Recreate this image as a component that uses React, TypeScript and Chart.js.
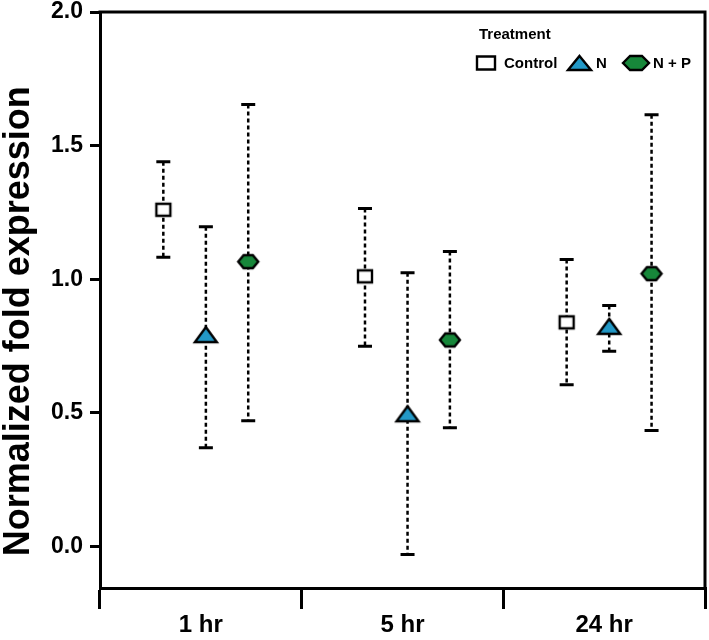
import React, { useEffect, useRef } from 'react';
import { Chart, registerables } from 'chart.js';

Chart.register(...registerables);

// ---- data ----
const categories = ['1 hr', '5 hr', '24 hr'];
const seriesNames = ['Control', 'N', 'N + P'];
const controlMean = [1.26, 1.011, 0.839];
const controlLow = [1.082, 0.749, 0.605];
const controlHigh = [1.44, 1.265, 1.074];
const nMean = [0.793, 0.497, 0.824];
const nLow = [0.37, -0.03, 0.731];
const nHigh = [1.197, 1.024, 0.902];
const npMean = [1.066, 0.773, 1.021];
const npLow = [0.471, 0.445, 0.434];
const npHigh = [1.654, 1.104, 1.616];
const yTicks = [0, 0.5, 1.0, 1.5, 2.0];
const legendTitle = 'Treatment';
const yTitle = 'Normalized fold expression';

// ---- styles ----
const FONT = "'Liberation Sans', Arial, Helvetica, sans-serif";
const means = [controlMean, nMean, npMean];
const lows = [controlLow, nLow, npLow];
const highs = [controlHigh, nHigh, npHigh];
const offsets = [-0.186, 0.025, 0.235];
const shapes = ['square', 'triangle', 'hexagon'];
const fills = ['#ffffff', '#2399c7', '#17873a'];
const plotSizes = [[14, 12], [22, 15], [20, 13]];
const legendSizes = [[18, 13], [23, 14], [26, 14]];

function tracePath(ctx: CanvasRenderingContext2D, shape: string, x0: number, y0: number, w: number, h: number) {
  ctx.beginPath();
  if (shape === 'square') {
    ctx.rect(x0, y0, w, h);
  } else if (shape === 'triangle') {
    ctx.moveTo(x0 + w / 2, y0);
    ctx.lineTo(x0 + w, y0 + h);
    ctx.lineTo(x0, y0 + h);
    ctx.closePath();
  } else {
    ctx.moveTo(x0, y0 + h / 2);
    ctx.lineTo(x0 + w * 0.27, y0);
    ctx.lineTo(x0 + w * 0.73, y0);
    ctx.lineTo(x0 + w, y0 + h / 2);
    ctx.lineTo(x0 + w * 0.73, y0 + h);
    ctx.lineTo(x0 + w * 0.27, y0 + h);
    ctx.closePath();
  }
}

function drawShape(ctx: CanvasRenderingContext2D, shape: string, cx: number, cy: number, w: number, h: number, fill: string) {
  ctx.save();
  tracePath(ctx, shape, cx - w / 2, cy - h / 2, w, h);
  ctx.fillStyle = fill;
  ctx.fill();
  ctx.lineWidth = 2.4;
  ctx.lineJoin = 'miter';
  ctx.strokeStyle = '#000';
  ctx.stroke();
  ctx.restore();
}

function makeMarker(shape: string, w: number, h: number, fill: string) {
  const c = document.createElement('canvas');
  c.width = w + 6;
  c.height = h + 6;
  const ctx = c.getContext('2d')!;
  drawShape(ctx, shape, c.width / 2, c.height / 2, w, h, fill);
  return c;
}

const errorBarPlugin = {
  id: 'errorBars',
  beforeDatasetsDraw(chart: any) {
    const ctx = chart.ctx as CanvasRenderingContext2D;
    const xs = chart.scales.xp;
    const ys = chart.scales.y;
    ctx.save();
    ctx.strokeStyle = '#000';
    means.forEach((arr, s) => {
      arr.forEach((_, i) => {
        const x = xs.getPixelForValue(i + 0.5 + offsets[s]);
        const yl = ys.getPixelForValue(lows[s][i]);
        const yh = ys.getPixelForValue(highs[s][i]);
        ctx.setLineDash([4, 3]);
        ctx.lineWidth = 2.5;
        ctx.beginPath();
        ctx.moveTo(x, yh);
        ctx.lineTo(x, yl);
        ctx.stroke();
        ctx.setLineDash([]);
        ctx.lineWidth = 3;
        ctx.beginPath();
        ctx.moveTo(x - 7, yh);
        ctx.lineTo(x + 7, yh);
        ctx.moveTo(x - 7, yl);
        ctx.lineTo(x + 7, yl);
        ctx.stroke();
      });
    });
    ctx.restore();
  },
};

const framePlugin = {
  id: 'frame',
  afterDraw(chart: any) {
    const ctx = chart.ctx as CanvasRenderingContext2D;
    const a = chart.chartArea;
    ctx.save();
    ctx.strokeStyle = '#000';
    ctx.lineWidth = 3;
    ctx.beginPath();
    ctx.moveTo(a.left - 1.5, a.top);
    ctx.lineTo(a.right, a.top);
    ctx.lineTo(a.right, a.bottom);
    ctx.stroke();
    // y-axis title
    const ys = chart.scales.y;
    ctx.translate(19, ys.getPixelForValue(0.843));
    ctx.rotate(-Math.PI / 2);
    ctx.fillStyle = '#000';
    ctx.font = `bold 36px ${FONT}`;
    ctx.textAlign = 'center';
    ctx.textBaseline = 'middle';
    ctx.fillText(yTitle, 0, 0);
    ctx.restore();
  },
};

const legendPlugin = {
  id: 'customLegend',
  afterDraw(chart: any) {
    const ctx = chart.ctx as CanvasRenderingContext2D;
    const a = chart.chartArea;
    const x0 = a.right - 227;
    ctx.save();
    ctx.fillStyle = '#000';
    ctx.font = `bold 15px ${FONT}`;
    ctx.textBaseline = 'alphabetic';
    ctx.textAlign = 'left';
    ctx.fillText(legendTitle, x0 + 1, a.top + 27);
    const rowY = a.top + 51;
    const markerCx = [x0 + 8, x0 + 101.5, x0 + 158];
    const textX = [x0 + 26, x0 + 118, x0 + 175];
    ctx.textBaseline = 'middle';
    seriesNames.forEach((name, s) => {
      drawShape(ctx, shapes[s], markerCx[s], rowY, legendSizes[s][0], legendSizes[s][1], fills[s]);
      ctx.fillStyle = '#000';
      ctx.font = `bold 15px ${FONT}`;
      ctx.fillText(name, textX[s], rowY + 1);
    });
    ctx.restore();
  },
};

export default function App() {
  const ref = useRef<HTMLCanvasElement>(null);
  useEffect(() => {
    if (!ref.current) return;
    Chart.defaults.font.family = FONT;
    const markers = shapes.map((sh, s) => makeMarker(sh, plotSizes[s][0], plotSizes[s][1], fills[s]));
    const chart = new Chart(ref.current, {
      type: 'scatter',
      data: {
        labels: categories,
        datasets: seriesNames.map((name, s) => ({
          label: name,
          data: means[s].map((v, i) => ({ x: i + 0.5 + offsets[s], y: v })),
          xAxisID: 'xp',
          yAxisID: 'y',
          pointStyle: markers[s] as any,
          pointRadius: 10,
          showLine: false,
        })),
      },
      options: {
        responsive: false,
        animation: false,
        layout: { autoPadding: false, padding: { top: 12, right: 4, left: 0, bottom: 0 } },
        plugins: { legend: { display: false }, tooltip: { enabled: false } },
        scales: {
          x: {
            type: 'category',
            labels: categories,
            position: 'bottom',
            offset: true,
            grid: { offset: true, drawOnChartArea: false, drawTicks: true, tickLength: 21, lineWidth: 3, color: '#000' },
            border: { display: true, width: 3, color: '#000' },
            ticks: { color: '#000', font: { family: FONT, size: 24, weight: 'bold' }, padding: 2, maxRotation: 0 },
            afterFit: (s: any) => { s.height = 52; s.paddingLeft = 0; s.paddingRight = 0; },
          },
          xp: {
            type: 'linear',
            display: false,
            min: 0,
            max: 3,
            position: 'bottom',
            ticks: { display: false },
          },
          y: {
            type: 'linear',
            min: -0.155,
            max: 2.0,
            afterBuildTicks: (s: any) => { s.ticks = yTicks.map((v) => ({ value: v })); },
            ticks: {
              color: '#000',
              font: { family: FONT, size: 23, weight: 'bold' },
              padding: 7,
              callback: (v: any) => Number(v).toFixed(1),
            },
            grid: { drawOnChartArea: false, drawTicks: true, tickLength: 10, lineWidth: 3, color: '#000' },
            border: { display: true, width: 3, color: '#000' },
            title: { display: false },
            afterFit: (s: any) => { s.width = 100; s.paddingTop = 0; s.paddingBottom = 0; },
          },
        },
      } as any,
      plugins: [errorBarPlugin, framePlugin, legendPlugin],
    });
    return () => chart.destroy();
  }, []);
  return (
    <div style={{ position: 'fixed', left: 0, top: 0, width: 709, height: 640, background: '#fff' }}>
      <canvas ref={ref} width={709} height={640} style={{ display: 'block' }} />
    </div>
  );
}
